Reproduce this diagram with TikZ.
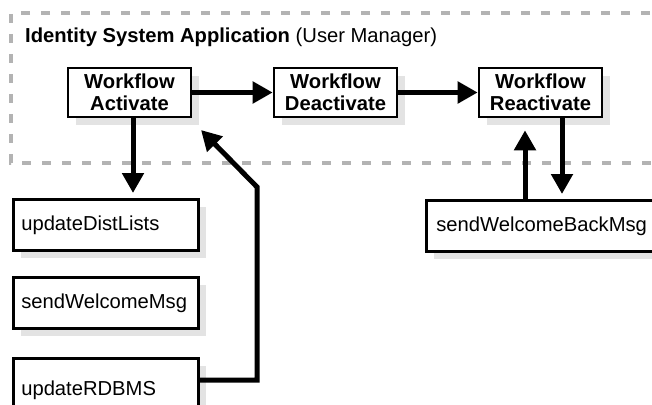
\documentclass[tikz,border=0pt]{standalone}
\usepackage{fontspec}
\setmainfont{Liberation Sans}
\usetikzlibrary{arrows.meta,shadows,calc}
\definecolor{shadowgray}{HTML}{E3E3E3}
\definecolor{dashgray}{HTML}{B3B3B3}
\begin{document}
\begin{tikzpicture}[x=1pt,y=1pt,
 font=\fontsize{20.2}{21.5}\selectfont,
 box/.style={draw,line width=2.6pt,fill=white,
   general shadow={fill=shadowgray, shadow xshift=8pt, shadow yshift=-8pt}},
 wf/.style={box, minimum width=123pt, minimum height=49pt, align=center,
   font=\fontsize{20.2}{21.5}\selectfont\bfseries, inner sep=0pt},
 op/.style={box, anchor=north west, minimum height=51pt, align=left, inner ysep=0pt, inner xsep=8pt},
 arr/.style={line width=5pt, -{Triangle[length=20pt,width=21pt]}},
 frame/.style={dashgray, line width=4.5pt, dash pattern=on 9pt off 11pt},
]
\useasboundingbox (0,0) rectangle (652,-404);
\clip (0,0) rectangle (652,-404);

% dashed container
\draw[frame] (670,-13) -- (11,-13) -- (11,-163) -- (670,-163);
\node[anchor=base west, inner sep=0pt] (title) at (25,-43)
  {\textbf{Identity System Application} (User Manager)};

% workflow boxes
\node[wf] (act) at (129.5,-92.5) {Workflow\\Activate};
\node[wf] (deact) at (335.5,-92.5) {Workflow\\Deactivate};
\node[wf] (react) at (540.5,-92.5) {Workflow\\Reactivate};

% operation boxes
\node[op, text width=169pt] (dist) at (12,-198) {updateDistLists};
\node[op, text width=169pt] (welc) at (12,-276) {sendWelcomeMsg};
\node[op, text width=169pt, minimum height=64pt] (rdbms) at (12,-357) {updateRDBMS};
\node[op, text width=240pt, inner xsep=10pt] (wback) at (425,-199) {sendWelcomeBackMsg};

% connectors
\draw[arr] (act.east) -- (deact.west);
\draw[arr] (deact.east) -- (react.west);
\draw[arr] ($(act.south)+(3.5,0)$) -- ($(act.south |- dist.north)+(3.5,5)$);

\coordinate (rexit) at ($(rdbms.north east)+(0,-23)$);
\coordinate (bend) at (257,-187);
\coordinate (tip) at (201,-130);
\draw[arr, line join=miter] (rexit) -| (bend) -- (tip);

\draw[arr] ($(react.south |- wback.north)+(-15.5,0)$) -- ($(react.south)+(-15.5,-12)$);
\draw[arr] ($(react.south)+(21.5,0)$) -- ($(react.south |- wback.north)+(21.5,5)$);
\end{tikzpicture}
\end{document}
